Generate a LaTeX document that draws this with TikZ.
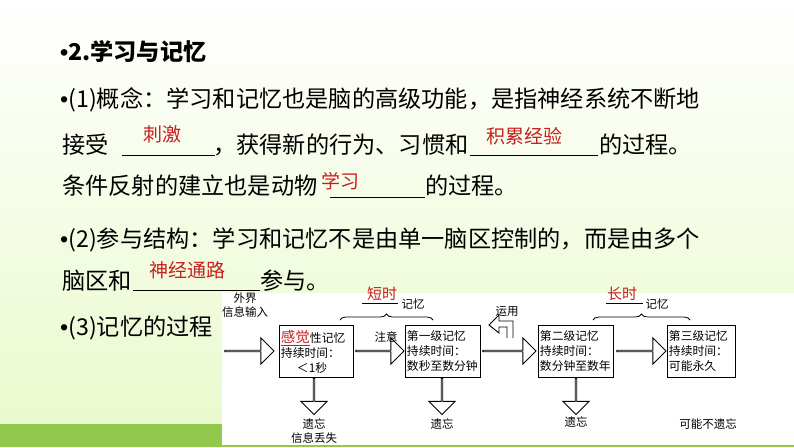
\documentclass[tikz,border=0pt]{standalone}
\usepackage{fontspec}
\setmainfont{Noto Sans CJK SC}
\newfontfamily\bulfont{Liberation Sans}
\usetikzlibrary{shapes.arrows,decorations.pathreplacing}
\definecolor{ansred}{RGB}{200,30,30}
\definecolor{bandgreen}{RGB}{146,200,76}
\definecolor{lightg}{RGB}{234,250,205}
\tikzset{
 txt/.style={anchor=west,inner sep=0pt,font=\fontsize{23.2}{24}\selectfont},
 ans/.style={anchor=center,inner sep=0pt,text=ansred,font=\fontsize{19}{20}\selectfont},
 blank/.style={line width=0.8pt},
 box/.style={draw,line width=0.9pt,minimum width=#1,minimum height=52pt,anchor=north west,align=left,inner sep=1.5pt,font=\fontsize{11.8}{15}\selectfont,text width=#1-3pt},
 harrow/.style={single arrow,draw,line width=0.9pt,fill=white,minimum height=#1,single arrow head extend=7pt,minimum width=26pt,inner sep=0pt,single arrow tip angle=90},
 small/.style={inner sep=0pt,font=\fontsize{11.5}{13.5}\selectfont},
}
\newcommand{\bul}{{\bulfont •}}
\begin{document}
\begin{tikzpicture}[x=1pt,y=-1pt]
\shade[top color=white,bottom color=lightg] (0,0) rectangle (794,424);
\fill[bandgreen] (0,424) rectangle (794,447);
\useasboundingbox (0,0) rectangle (794,447);
% text
\node[txt,font=\fontsize{23.2}{24}\selectfont\bfseries] (t1) at (60,52) {\bul 2.学习与记忆};
\node[txt] (l2) at (60,100) {\bul(1)概念：学习和记忆也是脑的高级功能，是指神经系统不断地};
\node[txt] (l3a) at (62,145) {接受};
\node[txt] (l3b) at (213,145) {，获得新的行为、习惯和};
\node[txt] (l3c) at (599,145) {的过程。};
\node[txt] (l4a) at (62,186) {条件反射的建立也是动物};
\node[txt] (l4b) at (425,186) {的过程。};
\node[txt] (l5) at (60,240) {\bul(2)参与结构：学习和记忆不是由单一脑区控制的，而是由多个};
\node[txt] (l6a) at (62,281) {脑区和};
\node[txt] (l6b) at (260,281) {参与。};
\node[txt] (l7) at (60,328) {\bul(3)记忆的过程};
\draw[blank] (122,155)--(215,155); \node[ans] (a1) at (162,134) {刺激};
\draw[blank] (470,155)--(598,155); \node[ans] (a2) at (524,136) {积累经验};
\draw[blank] (330,197)--(425,197); \node[ans] (a3) at (340,181) {学习};
\draw[blank] (133,290)--(260,290); \node[ans] (a4) at (187,270) {神经通路};
% diagram panel
\fill[white] (222,293) rectangle (794,445);
\draw[bandgreen,line width=1.5pt] (222,445.5)--(794,445.5);
\node[box=74pt] (b1) at (279,325) {\textcolor{ansred}{\underline{\fontsize{14.5}{14}\selectfont 感觉}}性记忆\\持续时间：\\\hspace*{16pt}＜1秒};
\node[box=75pt] (b2) at (405,325) {第一级记忆\\持续时间：\\数秒至数分钟};
\node[box=75pt] (b3) at (538,325) {第二级记忆\\持续时间：\\数分钟至数年};
\node[box=68pt] (b4) at (667,325) {第三级记忆\\持续时间：\\可能永久};
\node[harrow=49pt] (h1) at (249,351) {};
\node[harrow=48pt] (h2) at (379.5,351) {};
\node[harrow=53pt] (h3) at (509,351) {};
\node[harrow=49pt] (h4) at (641,351) {};
\node[harrow=36pt,shape border rotate=270] (d1) at (314,396) {};
\node[harrow=36pt,shape border rotate=270] (d2) at (442,396) {};
\node[harrow=36pt,shape border rotate=270] (d3) at (576,396) {};
% use arrow (L-shaped)
\draw[line width=0.9pt,fill=white] (513,338)--(513,321)--(499,321)--(499,315)--(489,325)--(499,333)--(499,327)--(507,327)--(507,338);
\node[small] (yy) at (507,311) {运用};
\node[small,align=center] (wj) at (245,305) {外界\\信息输入};
\node[small] (zy) at (386,337) {注意};
\node[small,align=center] (f1) at (314,431) {遗忘\\信息丢失};
\node[small] (f2) at (442,424) {遗忘};
\node[small] (f3) at (576,422) {遗忘};
\node[small] (f4) at (708,424) {可能不遗忘};
\draw[decorate,decoration={brace,amplitude=6pt},line width=0.8pt] (340,320)--(433,320) coordinate[midway] (br1);
\draw[decorate,decoration={brace,amplitude=6pt},line width=0.8pt] (593,320)--(690,320) coordinate[midway] (br2);
\node[ans,font=\fontsize{15}{15}\selectfont] (s1) at (382,294) {短时};
\draw (362,303)--(398,303);
\node[small] (m1) at (413,304) {记忆};
\node[ans,font=\fontsize{15}{15}\selectfont] (s2) at (622,294) {长时};
\draw (606,303)--(643,303);
\node[small] (m2) at (657,304) {记忆};
\end{tikzpicture}
\end{document}
